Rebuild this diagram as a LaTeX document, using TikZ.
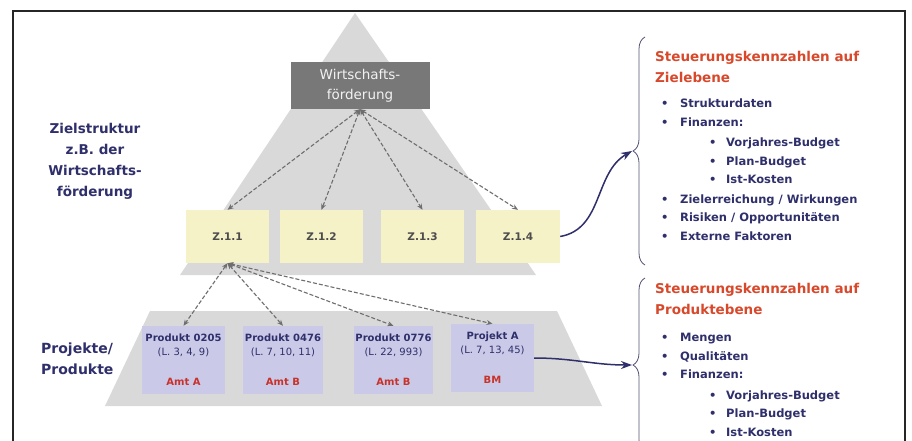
\documentclass[tikz,border=0pt]{standalone}
\usepackage{fontspec}
\setmainfont{DejaVu Sans}
\usetikzlibrary{decorations.pathreplacing,arrows.meta}

\definecolor{grisclair}{HTML}{D9D9D9}
\definecolor{grisfonce}{HTML}{787878}
\definecolor{jaunepale}{HTML}{F6F2C8}
\definecolor{lavande}{HTML}{CACAE8}
\definecolor{marine}{HTML}{2F2F6B}
\definecolor{rougeamt}{HTML}{C8322A}
\definecolor{orangetitre}{HTML}{D8492C}
\definecolor{grisfleche}{HTML}{6E6E6E}

\newcommand{\pkt}[1]{\hspace*{6pt}\makebox[19pt][l]{•}#1}
\newcommand{\upkt}[1]{\hspace*{54pt}\makebox[17pt][l]{•}#1}
\newcommand{\amt}[1]{{\color{rougeamt}\bfseries #1}}

\begin{document}
\begin{tikzpicture}[x=1pt,y=-1pt, % 1pt = 1 pixel, y vers le bas
  zbox/.style={fill=jaunepale,minimum width=83pt,minimum height=53pt,inner sep=0pt,
    font=\fontsize{10.5}{12}\selectfont\bfseries,text=black!70},
  prodbox/.style={fill=lavande,minimum width=81pt,minimum height=68pt,inner sep=0pt,
    align=center,text=marine,font=\fontsize{10}{14}\selectfont},
  pointille/.style={color=grisfleche,line width=1.1pt,dash pattern=on 4pt off 2pt,<->,>={Stealth[length=6pt,width=5pt]}},
  fleche/.style={color=marine,line width=1.5pt,->,>={Stealth[length=11pt,width=8pt]}},
  accolade/.style={color=marine!55!gray,line width=0.8pt,decorate,decoration={brace,amplitude=12pt,aspect=0.5}},
  titre/.style={anchor=north west,align=left,text=orangetitre,font=\fontsize{13.5}{21}\selectfont\bfseries,inner sep=0pt},
  liste/.style={anchor=north west,align=left,text=marine,font=\fontsize{11.5}{18.5}\selectfont\bfseries,inner sep=0pt},
  etiquette/.style={text=marine,font=\fontsize{13.5}{21}\selectfont\bfseries,inner sep=0pt}]
\useasboundingbox (0,0) rectangle (912,441);
\fill[white] (0,0) rectangle (912,441);
\draw[line width=1.5pt,color=black!85] (13,441)--(13,11)--(905,11)--(905,441); % le cadre

% les deux pyramides
\fill[grisclair] (355,13)--(536,275)--(180,275)--cycle;
\fill[grisclair] (150,311)--(557,311)--(602,406)--(105,406)--cycle;

% les noeuds
\node[fill=grisfonce,minimum width=139pt,minimum height=47pt,align=center,text=white!90!gray,
  font=\fontsize{13.5}{20}\selectfont] (wf) at (360,85.5) {Wirtschafts-\\förderung};
\node[zbox] (z11) at (227.5,236.5) {Z.1.1};
\node[zbox] (z12) at (321.5,236.5) {Z.1.2};
\node[zbox] (z13) at (422.5,236.5) {Z.1.3};
\node[zbox,minimum width=84pt] (z14) at (518,236.5) {Z.1.4};
\node[prodbox,minimum width=83pt] (p1) at (183.5,360) {\textbf{Produkt 0205}\\(L. 3, 4, 9)\\[16pt]\amt{Amt A}};
\node[prodbox,minimum width=80pt] (p2) at (283,360) {\textbf{Produkt 0476}\\(L. 7, 10, 11)\\[16pt]\amt{Amt B}};
\node[prodbox,minimum width=79pt] (p3) at (393.5,360) {\textbf{Produkt 0776}\\(L. 22, 993)\\[16pt]\amt{Amt B}};
\node[prodbox,minimum width=83pt] (p4) at (492.5,358) {\textbf{Projekt A}\\(L. 7, 13, 45)\\[16pt]\amt{BM}};

% les fleches en pointilles
\draw[pointille] (wf.south)--(z11.north);
\draw[pointille] (wf.south)--(z12.north);
\draw[pointille] (wf.south)--(z13.north);
\draw[pointille] (wf.south)--(z14.north);
\draw[pointille] (z11.south)--(p1.north);
\draw[pointille] (z11.south)--(p2.north);
\draw[pointille] (z11.south)--(p3.north);
\draw[pointille] (z11.south)--(p4.north);

% textes a gauche
\node[etiquette,align=center] (zs) at (95,161) {Zielstruktur\\z.B. der\\Wirtschafts-\\förderung};
\node[etiquette,align=left,anchor=west,font=\fontsize{14}{21}\selectfont\bfseries] (pp) at (41,359) {Projekte/\\Produkte};

% les accolades
\coordinate (pointeA) at (632,151);
\coordinate (pointeB) at (632,365);
\draw[accolade] (645,265)--(645,37);
\draw[accolade] (645,452)--(645,278);
\draw[fleche] (z14.east) to[out=10,in=210] (pointeA);
\draw[fleche] (p4.east) to[out=0,in=180] (pointeB);

% les listes a droite
\node[titre] (ta) at (655,51) {Steuerungskennzahlen auf\\Zielebene};
\node[liste] (la) at (655,99) {\pkt{Strukturdaten}\\\pkt{Finanzen:}\\[2pt]\upkt{Vorjahres-Budget}\\\upkt{Plan-Budget}\\\upkt{Ist-Kosten}\\[1pt]\pkt{Zielerreichung / Wirkungen}\\\pkt{Risiken / Opportunitäten}\\\pkt{Externe Faktoren}};
\node[titre] (tb) at (655,283) {Steuerungskennzahlen auf\\Produktebene};
\node[liste] (lb) at (655,333) {\pkt{Mengen}\\\pkt{Qualitäten}\\\pkt{Finanzen:}\\[2pt]\upkt{Vorjahres-Budget}\\\upkt{Plan-Budget}\\\upkt{Ist-Kosten}};
\end{tikzpicture}
\end{document}
